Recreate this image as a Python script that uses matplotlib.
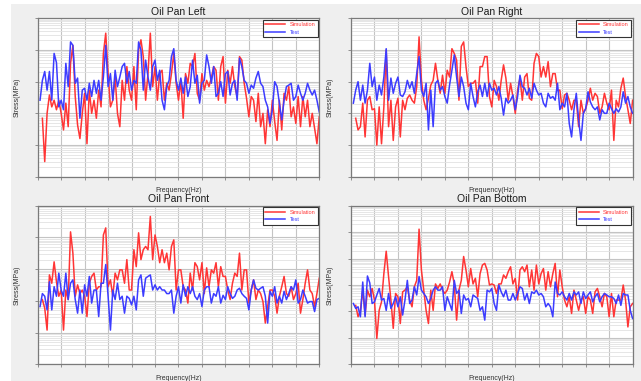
import matplotlib.pyplot as plt
import numpy as np
from matplotlib.patches import Rectangle
from matplotlib.ticker import LogLocator, MultipleLocator, NullFormatter

plt.rcParams["font.family"] = ["Liberation Sans", "DejaVu Sans"]

# frequency grid of the response spectra, Hz
freq = np.arange(10, 1201, 10)

# stress amplitude, MPa (simulation curves start one step later)
left_test = [
    2.6, 11, 21, 5.4, 21, 2.6, 78, 40, 1.6, 2.6,
    1.3, 38, 7.0, 180, 140, 8.9, 13, 0.70, 5.4, 6.2,
    2.6, 8.9, 3.4, 11, 4.3, 11, 2.6, 14, 140, 7.0,
    18, 2.6, 23, 7.0, 14, 30, 38, 8.9, 21, 5.4,
    11, 8.9, 180, 100, 5.4, 48, 14, 5.4, 30, 48,
    11, 23, 2.6, 1.3, 7.0, 11, 62, 110, 11, 5.4,
    13, 4.3, 14, 3.4, 7.0, 48, 8.9, 16, 2.1, 8.9,
    11, 70, 30, 8.9, 30, 3.4, 4.3, 10, 3.4, 18,
    21, 3.8, 8.9, 11, 2.6, 55, 30, 11, 8.9, 4.3,
    7.8, 6.2, 13, 21, 8.9, 7.0, 2.6, 1.6, 0.48, 1.3,
    10, 7.0, 2.1, 0.62, 2.6, 7.0, 7.8, 8.9, 2.6, 3.4,
    7.8, 4.3, 2.6, 4.3, 8.9, 5.4, 3.8, 5.4, 2.6, 1.1,
]
left_sim = [
    0.70, 0.030, 1.0, 3.8, 1.6, 2.6, 1.3, 2.6, 1.0,
    0.30, 2.1, 0.38, 38, 140, 3.4, 0.43, 0.16, 1.0, 4.3,
    0.11, 5.4, 1.0, 2.6, 0.70, 5.4, 1.6, 78, 340, 18,
    1.6, 2.6, 14, 1.0, 0.38, 11, 2.6, 30, 5.4, 2.6,
    30, 1.3, 100, 210, 62, 2.6, 18, 340, 7.0, 30,
    2.6, 18, 23, 2.6, 8.9, 5.4, 18, 78, 8.9, 2.6,
    11, 0.70, 18, 8.9, 38, 30, 78, 4.3, 2.6, 18,
    5.4, 11, 7.0, 13, 30, 23, 2.6, 30, 62, 2.1,
    23, 8.9, 30, 7.0, 3.4, 62, 48, 8.9, 3.0, 0.78,
    3.4, 2.6, 0.55, 4.3, 0.38, 1.0, 0.11, 1.3, 0.38, 2.6,
    0.55, 0.14, 2.6, 0.30, 4.3, 2.6, 7.0, 0.78, 1.6, 0.48,
    3.4, 0.38, 3.4, 0.78, 2.6, 0.38, 1.0, 0.34, 0.11, 0.78,
]

right_test = [
    2.1, 5.4, 10, 2.6, 7.8, 2.1, 5.4, 38, 7.0, 14,
    2.6, 7.8, 3.8, 14, 110, 2.6, 13, 4.3, 8.9, 14,
    3.8, 3.4, 4.8, 11, 6.2, 10, 4.3, 18, 62, 5.4,
    3.4, 8.9, 0.30, 5.4, 0.38, 8.9, 11, 5.4, 7.0, 3.4,
    2.1, 7.8, 23, 70, 14, 3.4, 14, 7.0, 2.1, 1.3,
    8.9, 3.4, 1.6, 4.8, 7.8, 3.4, 8.9, 3.4, 8.9, 5.4,
    6.2, 3.8, 7.0, 3.0, 0.88, 3.0, 2.1, 2.6, 3.8, 1.3,
    3.4, 16, 7.0, 6.2, 3.8, 6.2, 3.0, 8.9, 5.4, 3.8,
    4.3, 2.1, 1.6, 4.3, 3.0, 3.4, 2.6, 8.9, 1.3, 2.1,
    1.6, 4.3, 0.48, 0.18, 1.3, 4.3, 0.62, 0.14, 1.0, 1.4,
    4.8, 2.3, 1.6, 1.3, 1.6, 0.62, 1.3, 1.0, 1.0, 2.1,
    1.4, 1.0, 1.4, 1.1, 1.6, 4.8, 2.1, 3.4, 1.6, 1.0,
]
right_sim = [
    0.70, 0.30, 0.38, 2.1, 0.18, 2.6, 3.4, 1.3, 1.4,
    0.10, 1.6, 0.11, 1.6, 100, 0.38, 2.6, 0.14, 1.6, 3.0,
    0.18, 2.6, 1.3, 3.0, 3.8, 2.6, 2.1, 7.0, 260, 11,
    2.6, 1.3, 3.0, 7.8, 11, 38, 11, 4.3, 16, 4.3,
    23, 14, 110, 78, 48, 2.6, 130, 180, 30, 7.0,
    8.9, 8.9, 11, 2.1, 30, 30, 62, 62, 3.4, 1.6,
    11, 7.0, 2.6, 11, 34, 13, 2.6, 8.9, 3.4, 1.0,
    5.4, 13, 2.6, 14, 18, 3.0, 2.6, 38, 78, 62,
    14, 30, 14, 43, 7.0, 18, 18, 5.4, 5.4, 1.4,
    3.8, 4.3, 2.6, 1.3, 2.6, 2.6, 0.38, 2.6, 1.0, 1.4,
    2.6, 6.2, 2.6, 4.3, 3.4, 1.0, 1.6, 4.3, 2.1, 1.3,
    5.4, 0.14, 2.6, 1.6, 6.2, 13, 3.4, 1.3, 0.48, 2.6,
]

front_test = [
    0.66, 1.7, 1.4, 0.52, 4.0, 0.52, 2.8, 1.4, 7.5, 2.2,
    1.4, 7.5, 1.1, 3.6, 4.6, 1.1, 0.41, 2.2, 0.41, 3.2,
    1.4, 5.9, 0.85, 2.2, 2.2, 0.32, 3.6, 3.6, 14, 1.4,
    0.12, 2.2, 1.1, 3.6, 1.1, 1.4, 0.41, 1.4, 1.2, 0.75,
    1.4, 0.52, 4.6, 6.6, 1.4, 5.2, 5.9, 6.6, 2.2, 3.2,
    2.2, 2.8, 2.2, 2.2, 1.7, 1.7, 2.2, 0.41, 1.4, 2.8,
    0.85, 3.2, 1.4, 2.8, 1.7, 2.8, 1.4, 1.1, 1.7, 0.66,
    2.2, 2.8, 2.8, 0.85, 1.7, 1.4, 2.8, 0.85, 1.5, 1.1,
    2.8, 1.7, 1.2, 1.4, 2.2, 2.5, 1.7, 1.4, 1.2, 0.52,
    2.2, 4.6, 2.5, 2.2, 2.5, 2.8, 1.4, 0.20, 2.0, 1.4,
    2.8, 0.85, 1.4, 0.85, 2.0, 1.1, 1.7, 2.8, 2.2, 4.6,
    0.85, 1.1, 2.2, 1.4, 0.85, 0.95, 0.95, 0.46, 1.1, 1.2,
]
front_sim = [
    1.1, 0.59, 0.12, 6.6, 3.6, 17, 4.0, 1.4, 2.2,
    0.12, 2.2, 1.1, 150, 32, 1.4, 3.2, 1.7, 2.2, 1.4,
    0.32, 3.6, 5.9, 7.5, 2.2, 2.8, 2.8, 120, 200, 2.8,
    4.6, 1.4, 7.5, 4.6, 9.5, 9.5, 3.6, 20, 2.2, 2.2,
    41, 12, 140, 20, 41, 52, 41, 460, 20, 120,
    52, 16, 41, 16, 32, 9.5, 52, 84, 2.2, 9.5,
    9.5, 2.8, 2.2, 0.85, 7.5, 2.2, 16, 12, 4.6, 16,
    1.7, 11, 2.8, 9.5, 7.5, 16, 2.8, 12, 5.9, 5.9,
    2.2, 1.1, 3.6, 7.5, 5.9, 32, 2.2, 9.5, 9.5, 0.85,
    2.2, 4.6, 1.1, 2.2, 1.7, 0.95, 0.20, 0.66, 2.2, 2.2,
    1.4, 0.41, 1.4, 2.8, 5.9, 1.7, 1.4, 2.8, 1.1, 1.7,
    3.6, 0.41, 1.1, 3.6, 9.5, 2.2, 1.7, 0.66, 1.7, 5.2,
]

bottom_test = [
    2.0, 1.3, 1.5, 0.63, 13, 0.63, 22, 12, 2.0, 2.3,
    4.2, 7.4, 2.7, 3.1, 1.1, 4.8, 1.3, 2.0, 3.6, 1.5,
    3.6, 0.73, 2.7, 15, 2.0, 2.7, 8.6, 4.2, 21, 6.4,
    4.8, 3.6, 2.0, 3.1, 6.4, 8.6, 6.4, 6.4, 8.6, 1.1,
    3.6, 2.0, 1.1, 15, 4.8, 6.4, 0.84, 4.2, 2.7, 3.1,
    1.5, 4.2, 3.6, 3.1, 1.1, 1.5, 0.47, 6.4, 5.5, 7.4,
    2.0, 1.1, 10, 5.5, 3.6, 6.4, 2.7, 2.7, 4.8, 2.7,
    4.8, 8.6, 7.4, 2.7, 4.8, 2.0, 5.5, 4.8, 6.4, 4.2,
    4.8, 3.6, 1.5, 2.0, 1.5, 0.63, 13, 4.8, 4.2, 5.5,
    3.6, 2.7, 4.8, 2.7, 5.5, 4.2, 5.5, 2.0, 5.5, 3.1,
    4.2, 5.5, 2.3, 3.6, 4.8, 2.3, 3.6, 4.8, 4.2, 3.6,
    3.6, 3.1, 2.0, 4.2, 1.7, 4.8, 4.2, 4.2, 1.1, 0.54,
]
bottom_sim = [
    1.7, 0.63, 1.1, 6.4, 0.73, 6.4, 3.6, 7.4, 2.7,
    0.095, 1.1, 2.3, 27, 190, 21, 2.7, 0.23, 4.8, 3.6,
    0.35, 5.5, 6.4, 8.6, 2.7, 1.5, 8.6, 15, 1300, 37,
    6.4, 1.1, 0.35, 6.4, 1.1, 11, 7.4, 11, 6.4, 4.8,
    6.4, 13, 32, 11, 0.47, 6.4, 15, 120, 37, 8.6,
    42, 11, 18, 3.6, 27, 57, 66, 37, 10, 11,
    10, 4.8, 11, 11, 24, 18, 32, 49, 11, 18,
    2.7, 37, 49, 32, 57, 8.6, 37, 6.4, 57, 11,
    27, 42, 6.4, 32, 8.6, 27, 66, 3.6, 37, 8.6,
    2.7, 1.5, 3.6, 0.84, 6.4, 2.7, 1.1, 2.7, 3.6, 0.84,
    3.6, 2.7, 0.84, 5.5, 7.4, 3.6, 1.5, 4.8, 3.6, 0.63,
    4.8, 0.63, 2.7, 2.7, 2.7, 10, 2.7, 0.26, 1.5, 2.0,
]

titles = ["Oil Pan Left", "Oil Pan Right", "Oil Pan Front", "Oil Pan Bottom"]
sims = [left_sim, right_sim, front_sim, bottom_sim]
tests = [left_test, right_test, front_test, bottom_test]
stress_limits = [(0.01, 1000), (0.01, 1000), (0.01, 1000), (0.01, 10000)]

SIM_COLOR = "#ff3535"
TEST_COLOR = "#3c3cff"

fig = plt.figure(figsize=(6.41, 3.81), dpi=100, facecolor="#efefef")
fig.patches.append(Rectangle((0, 0), 11 / 641, 1, transform=fig.transFigure,
                             facecolor="white", edgecolor="none", zorder=-5))
fig.patches.append(Rectangle((0, 1 - 4 / 381), 1, 4 / 381, transform=fig.transFigure,
                             facecolor="white", edgecolor="none", zorder=-5))

boxes = [
    [0.0588, 0.5362, 0.4393, 0.4157],
    [0.5476, 0.5362, 0.4393, 0.4157],
    [0.0588, 0.0438, 0.4393, 0.4162],
    [0.5476, 0.0438, 0.4393, 0.4162],
]

for box, title, sim, test, ylim in zip(boxes, titles, sims, tests, stress_limits):
    ax = fig.add_axes(box)
    ax.set_facecolor("white")
    ax.plot(freq[-len(sim):], sim, color=SIM_COLOR, lw=1.1, label="Simulation")
    ax.plot(freq[-len(test):], test, color=TEST_COLOR, lw=1.1, label="Test")

    ax.set_yscale("log")
    ax.set_ylim(*ylim)
    ax.set_xlim(0, 1200)
    ax.xaxis.set_major_locator(MultipleLocator(100))
    ax.yaxis.set_major_locator(LogLocator(base=10, numticks=12))
    ax.yaxis.set_minor_locator(LogLocator(base=10, subs=np.arange(2, 10), numticks=12))
    ax.xaxis.set_major_formatter(NullFormatter())
    ax.yaxis.set_major_formatter(NullFormatter())
    ax.yaxis.set_minor_formatter(NullFormatter())
    ax.tick_params(which="both", length=2, width=0.6, color="#808080")
    ax.tick_params(which="minor", length=0)

    ax.grid(True, which="major", color="#c4c4c4", lw=0.8)
    ax.grid(True, which="minor", axis="y", color="#e2e2e2", lw=0.6)
    ax.set_axisbelow(True)
    for spine in ax.spines.values():
        spine.set_color("#7a7a7a")
        spine.set_linewidth(0.9)

    ax.set_title(title, fontsize=7.5, pad=2.5, color="#1a1a1a")
    ax.set_xlabel("Frequency(Hz)", fontsize=5, labelpad=2, color="#333333")
    ax.set_ylabel("Stress(MPa)", fontsize=5, labelpad=7, color="#333333")

    leg = ax.legend(loc="upper right", fontsize=4, handlelength=3.6,
                    handletextpad=0.8, borderaxespad=0.3, fancybox=False,
                    framealpha=1, edgecolor="#333333")
    leg.get_frame().set_linewidth(0.8)
    for text, color in zip(leg.get_texts(), [SIM_COLOR, TEST_COLOR]):
        text.set_color(color)

fig.savefig("out.png", dpi=100, facecolor=fig.get_facecolor())
